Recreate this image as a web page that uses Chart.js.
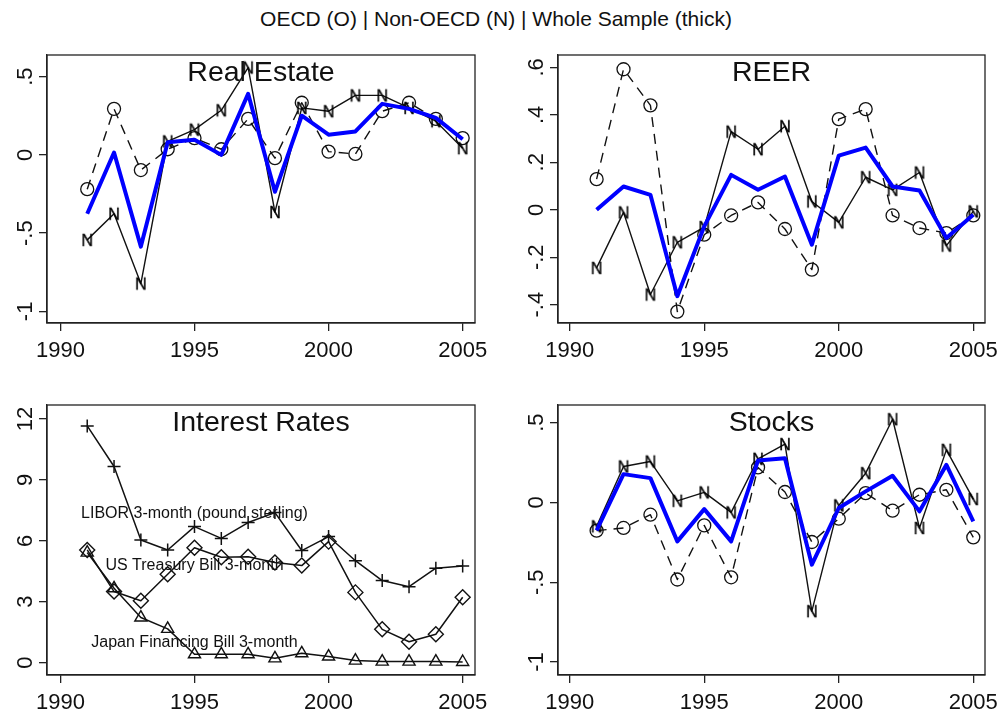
<!DOCTYPE html>
<html>
<head>
<meta charset="utf-8">
<script src="https://cdn.jsdelivr.net/npm/chart.js@4.4.1/dist/chart.umd.min.js"></script>
<style>
  body { margin: 0; background: #fff; width: 1004px; height: 713px; overflow: hidden; position: relative;
         font-family: "Liberation Sans", Arial, sans-serif; }
  #title { position: absolute; left: 0; width: 992px; top: 7px; line-height: 24px; text-align: center;
           font-size: 21px; color: #111; }
  .panel { position: absolute; }
</style>
</head>
<body>
<div id="title">OECD (O) | Non-OECD (N) | Whole Sample (thick)</div>
<div class="panel" style="left:0;top:40px"><canvas id="realEstate" width="500" height="330"></canvas></div>
<div class="panel" style="left:500px;top:40px"><canvas id="reer" width="504" height="330"></canvas></div>
<div class="panel" style="left:0;top:390px"><canvas id="rates" width="500" height="323"></canvas></div>
<div class="panel" style="left:500px;top:390px"><canvas id="stocks" width="504" height="323"></canvas></div>

<script>
// ---- data ----
const years = [1991, 1992, 1993, 1994, 1995, 1996, 1997, 1998, 1999, 2000, 2001, 2002, 2003, 2004, 2005];
const xTicks = [1990, 1995, 2000, 2005];

// Real Estate
const reWhole = [-0.376, 0.015, -0.586, 0.08, 0.097, 0.0, 0.39, -0.236, 0.25, 0.129, 0.15, 0.326, 0.294, 0.236, 0.10];
const reOECD  = [-0.219, 0.294, -0.097, 0.036, 0.107, 0.036, 0.23, -0.021, 0.333, 0.021, 0.006, 0.279, 0.333, 0.23, 0.107];
const reNon   = [-0.543, -0.376, -0.822, 0.086, 0.161, 0.285, 0.558, -0.365, 0.30, 0.279, 0.38, 0.38, 0.30, 0.215, 0.043];
const reTicks = [-1, -0.5, 0, 0.5];
const reTickLabels = ['-1', '-.5', '0', '.5'];

// REER
const reerWhole = [0.0, 0.098, 0.063, -0.364, -0.07, 0.147, 0.084, 0.14, -0.147, 0.228, 0.262, 0.098, 0.081, -0.119, -0.021];
const reerOECD  = [0.129, 0.592, 0.44, -0.429, -0.105, -0.024, 0.031, -0.081, -0.252, 0.382, 0.424, -0.024, -0.077, -0.098, -0.024];
const reerNon   = [-0.245, -0.011, -0.357, -0.137, -0.073, 0.329, 0.255, 0.352, 0.035, -0.053, 0.137, 0.084, 0.157, -0.151, -0.007];
const reerTicks = [-0.4, -0.2, 0, 0.2, 0.4, 0.6];
const reerTickLabels = ['-.4', '-.2', '0', '.2', '.4', '.6'];

// Interest Rates
const libor    = [11.66, 9.66, 6.04, 5.55, 6.70, 6.12, 6.90, 7.39, 5.52, 6.21, 5.02, 4.04, 3.74, 4.65, 4.76];
const usTbill  = [5.55, 3.50, 3.05, 4.35, 5.66, 5.19, 5.22, 4.93, 4.78, 5.96, 3.46, 1.64, 1.03, 1.40, 3.22];
const japanFB  = [5.42, 3.66, 2.22, 1.66, 0.41, 0.41, 0.41, 0.21, 0.46, 0.30, 0.10, 0.05, 0.05, 0.05, 0.03];
const rateTicks = [0, 3, 6, 9, 12];
const rateTickLabels = ['0', '3', '6', '9', '12'];
const rateNotes = ['LIBOR 3-month (pound sterling)', 'US Treasury Bill 3-month', 'Japan Financing Bill 3-month'];
const rateNoteX = [1995, 1995, 1995];
const rateNoteY = [7.4, 4.85, 1.05];

// Stocks
const stWhole = [-0.175, 0.177, 0.152, -0.244, -0.042, -0.244, 0.263, 0.277, -0.39, -0.035, 0.069, 0.167, -0.056, 0.235, -0.119];
const stOECD  = [-0.177, -0.16, -0.077, -0.483, -0.144, -0.469, 0.219, 0.065, -0.248, -0.102, 0.058, -0.052, 0.048, 0.079, -0.219];
const stNon   = [-0.15, 0.225, 0.256, 0.01, 0.0625, -0.0625, 0.273, 0.365, -0.681, -0.019, 0.183, 0.521, -0.16, 0.329, 0.021];
const stTicks = [-1, -0.5, 0, 0.5];
const stTickLabels = ['-1', '-.5', '0', '.5'];

// ---- drawing ----
const FONT = '"Liberation Sans", Arial, sans-serif';
const INK = '#111';
const AXIS = '#222';

const pts = arr => years.map((x, i) => ({ x: x, y: arr[i] }));

// "N" letter used as a marker
function letterMarker(ch) {
    const c = document.createElement('canvas');
    c.width = 16; c.height = 16;
    const g = c.getContext('2d');
    g.font = '16px ' + FONT;
    g.fillStyle = '#000';
    g.strokeStyle = '#000';
    g.lineWidth = 0.4;
    g.textAlign = 'center';
    g.fillText(ch, 8, 13.7);
    g.strokeText(ch, 8, 13.7);
    return c;
}
const nMarker = letterMarker('N');

// box, rotated y labels, panel title, text notes
const panelDeco = {
    id: 'panelDeco',
    afterDraw(chart, args, o) {
        const { ctx, chartArea: a } = chart;
        const xs = chart.scales.x, ys = chart.scales.y;
        ctx.save();
        ctx.strokeStyle = AXIS;
        ctx.lineWidth = 1.3;
        ctx.strokeRect(a.left, a.top, a.right - a.left, a.bottom - a.top);

        ctx.fillStyle = INK;
        ctx.font = '22px ' + FONT;
        ctx.textAlign = 'center';
        ctx.textBaseline = 'alphabetic';
        xs.ticks.forEach(t => ctx.fillText(String(t.value), xs.getPixelForValue(t.value), a.bottom + 34));

        ys.ticks.forEach((t, i) => {
            ctx.save();
            ctx.translate(a.left - 15, ys.getPixelForValue(t.value));
            ctx.rotate(-Math.PI / 2);
            ctx.fillText(o.yLabels[i], 0, 0);
            ctx.restore();
        });

        ctx.font = '28.5px ' + FONT;
        ctx.fillText(o.title, (a.left + a.right) / 2, a.top + 25.5);

        if (o.notes) {
            ctx.font = '16px ' + FONT;
            o.notes.forEach((txt, i) => {
                ctx.fillText(txt, xs.getPixelForValue(o.noteX[i]), ys.getPixelForValue(o.noteY[i]) + 5.7);
            });
        }
        ctx.restore();
    }
};

function makePanel(id, cfg) {
    const canvas = document.getElementById(id);
    const W = canvas.width, H = canvas.height;
    return new Chart(canvas, {
        type: 'line',
        data: { datasets: cfg.datasets },
        options: {
            responsive: false,
            animation: false,
            devicePixelRatio: 1,
            events: [],
            layout: { padding: { left: 0, top: 15, right: cfg.padRight, bottom: 0 } },
            elements: { line: { tension: 0, borderJoinStyle: 'round' } },
            plugins: {
                legend: { display: false },
                tooltip: { enabled: false },
                panelDeco: { title: cfg.title, yLabels: cfg.yLabels, notes: cfg.notes, noteX: cfg.noteX, noteY: cfg.noteY }
            },
            scales: {
                x: {
                    type: 'linear', min: cfg.xMin, max: cfg.xMax,
                    afterBuildTicks: s => { s.ticks = xTicks.map(v => ({ value: v })); },
                    afterFit: s => { s.height = H - cfg.plotBottom; },
                    grid: { drawOnChartArea: false, drawTicks: true, tickLength: 8, color: AXIS, lineWidth: 1.3 },
                    border: { display: true, color: AXIS, width: 1.3 },
                    ticks: { callback: () => '' }
                },
                y: {
                    type: 'linear', min: cfg.yMin, max: cfg.yMax,
                    afterBuildTicks: s => { s.ticks = cfg.yTicks.map(v => ({ value: v })); },
                    afterFit: s => { s.width = cfg.plotLeft; },
                    grid: { drawOnChartArea: false, drawTicks: true, tickLength: 8, color: AXIS, lineWidth: 1.3 },
                    border: { display: true, color: AXIS, width: 1.3 },
                    ticks: { callback: () => '' }
                }
            }
        },
        plugins: [panelDeco]
    });
}

// three-group panel: whole sample on top, then non-OECD, then OECD
function groupSets(whole, non, oecd) {
    return [
        { data: pts(whole), borderColor: '#0000ff', borderWidth: 4, pointRadius: 0 },
        { data: pts(non), borderColor: INK, borderWidth: 1.4, pointStyle: nMarker, pointRadius: 8 },
        { data: pts(oecd), borderColor: INK, borderWidth: 1.4, borderDash: [10, 7],
          pointStyle: 'circle', pointRadius: 6.5, pointBorderWidth: 1.3,
          pointBorderColor: INK, pointBackgroundColor: 'rgba(0,0,0,0)' }
    ];
}

makePanel('realEstate', {
    title: 'Real Estate', datasets: groupSets(reWhole, reNon, reOECD),
    xMin: 1989.5, xMax: 2005.46, yMin: -1.074, yMax: 0.638,
    yTicks: reTicks, yLabels: reTickLabels, plotLeft: 47, padRight: 25, plotBottom: 283
});

makePanel('reer', {
    title: 'REER', datasets: groupSets(reerWhole, reerNon, reerOECD),
    xMin: 1989.565, xMax: 2005.435, yMin: -0.477, yMax: 0.652,
    yTicks: reerTicks, yLabels: reerTickLabels, plotLeft: 58, padRight: 19, plotBottom: 283
});

makePanel('rates', {
    title: 'Interest Rates',
    datasets: [
        { data: pts(libor), borderColor: INK, borderWidth: 1.5, pointStyle: 'cross', pointRadius: 6.5,
          pointBorderWidth: 1.5, pointBorderColor: INK },
        { data: pts(usTbill), borderColor: INK, borderWidth: 1.5, pointStyle: 'rectRot', pointRadius: 7.5,
          pointBorderWidth: 1.4, pointBorderColor: INK, pointBackgroundColor: 'rgba(0,0,0,0)' },
        { data: pts(japanFB), borderColor: INK, borderWidth: 1.5, pointStyle: 'triangle', pointRadius: 7,
          pointBorderWidth: 1.4, pointBorderColor: INK, pointBackgroundColor: 'rgba(0,0,0,0)' }
    ],
    notes: rateNotes, noteX: rateNoteX, noteY: rateNoteY,
    xMin: 1989.5, xMax: 2005.46, yMin: -0.61, yMax: 12.69,
    yTicks: rateTicks, yLabels: rateTickLabels, plotLeft: 47, padRight: 25, plotBottom: 285
});

makePanel('stocks', {
    title: 'Stocks', datasets: groupSets(stWhole, stNon, stOECD),
    xMin: 1989.565, xMax: 2005.435, yMin: -1.081, yMax: 0.61,
    yTicks: stTicks, yLabels: stTickLabels, plotLeft: 58, padRight: 19, plotBottom: 285
});
</script>
</body>
</html>
